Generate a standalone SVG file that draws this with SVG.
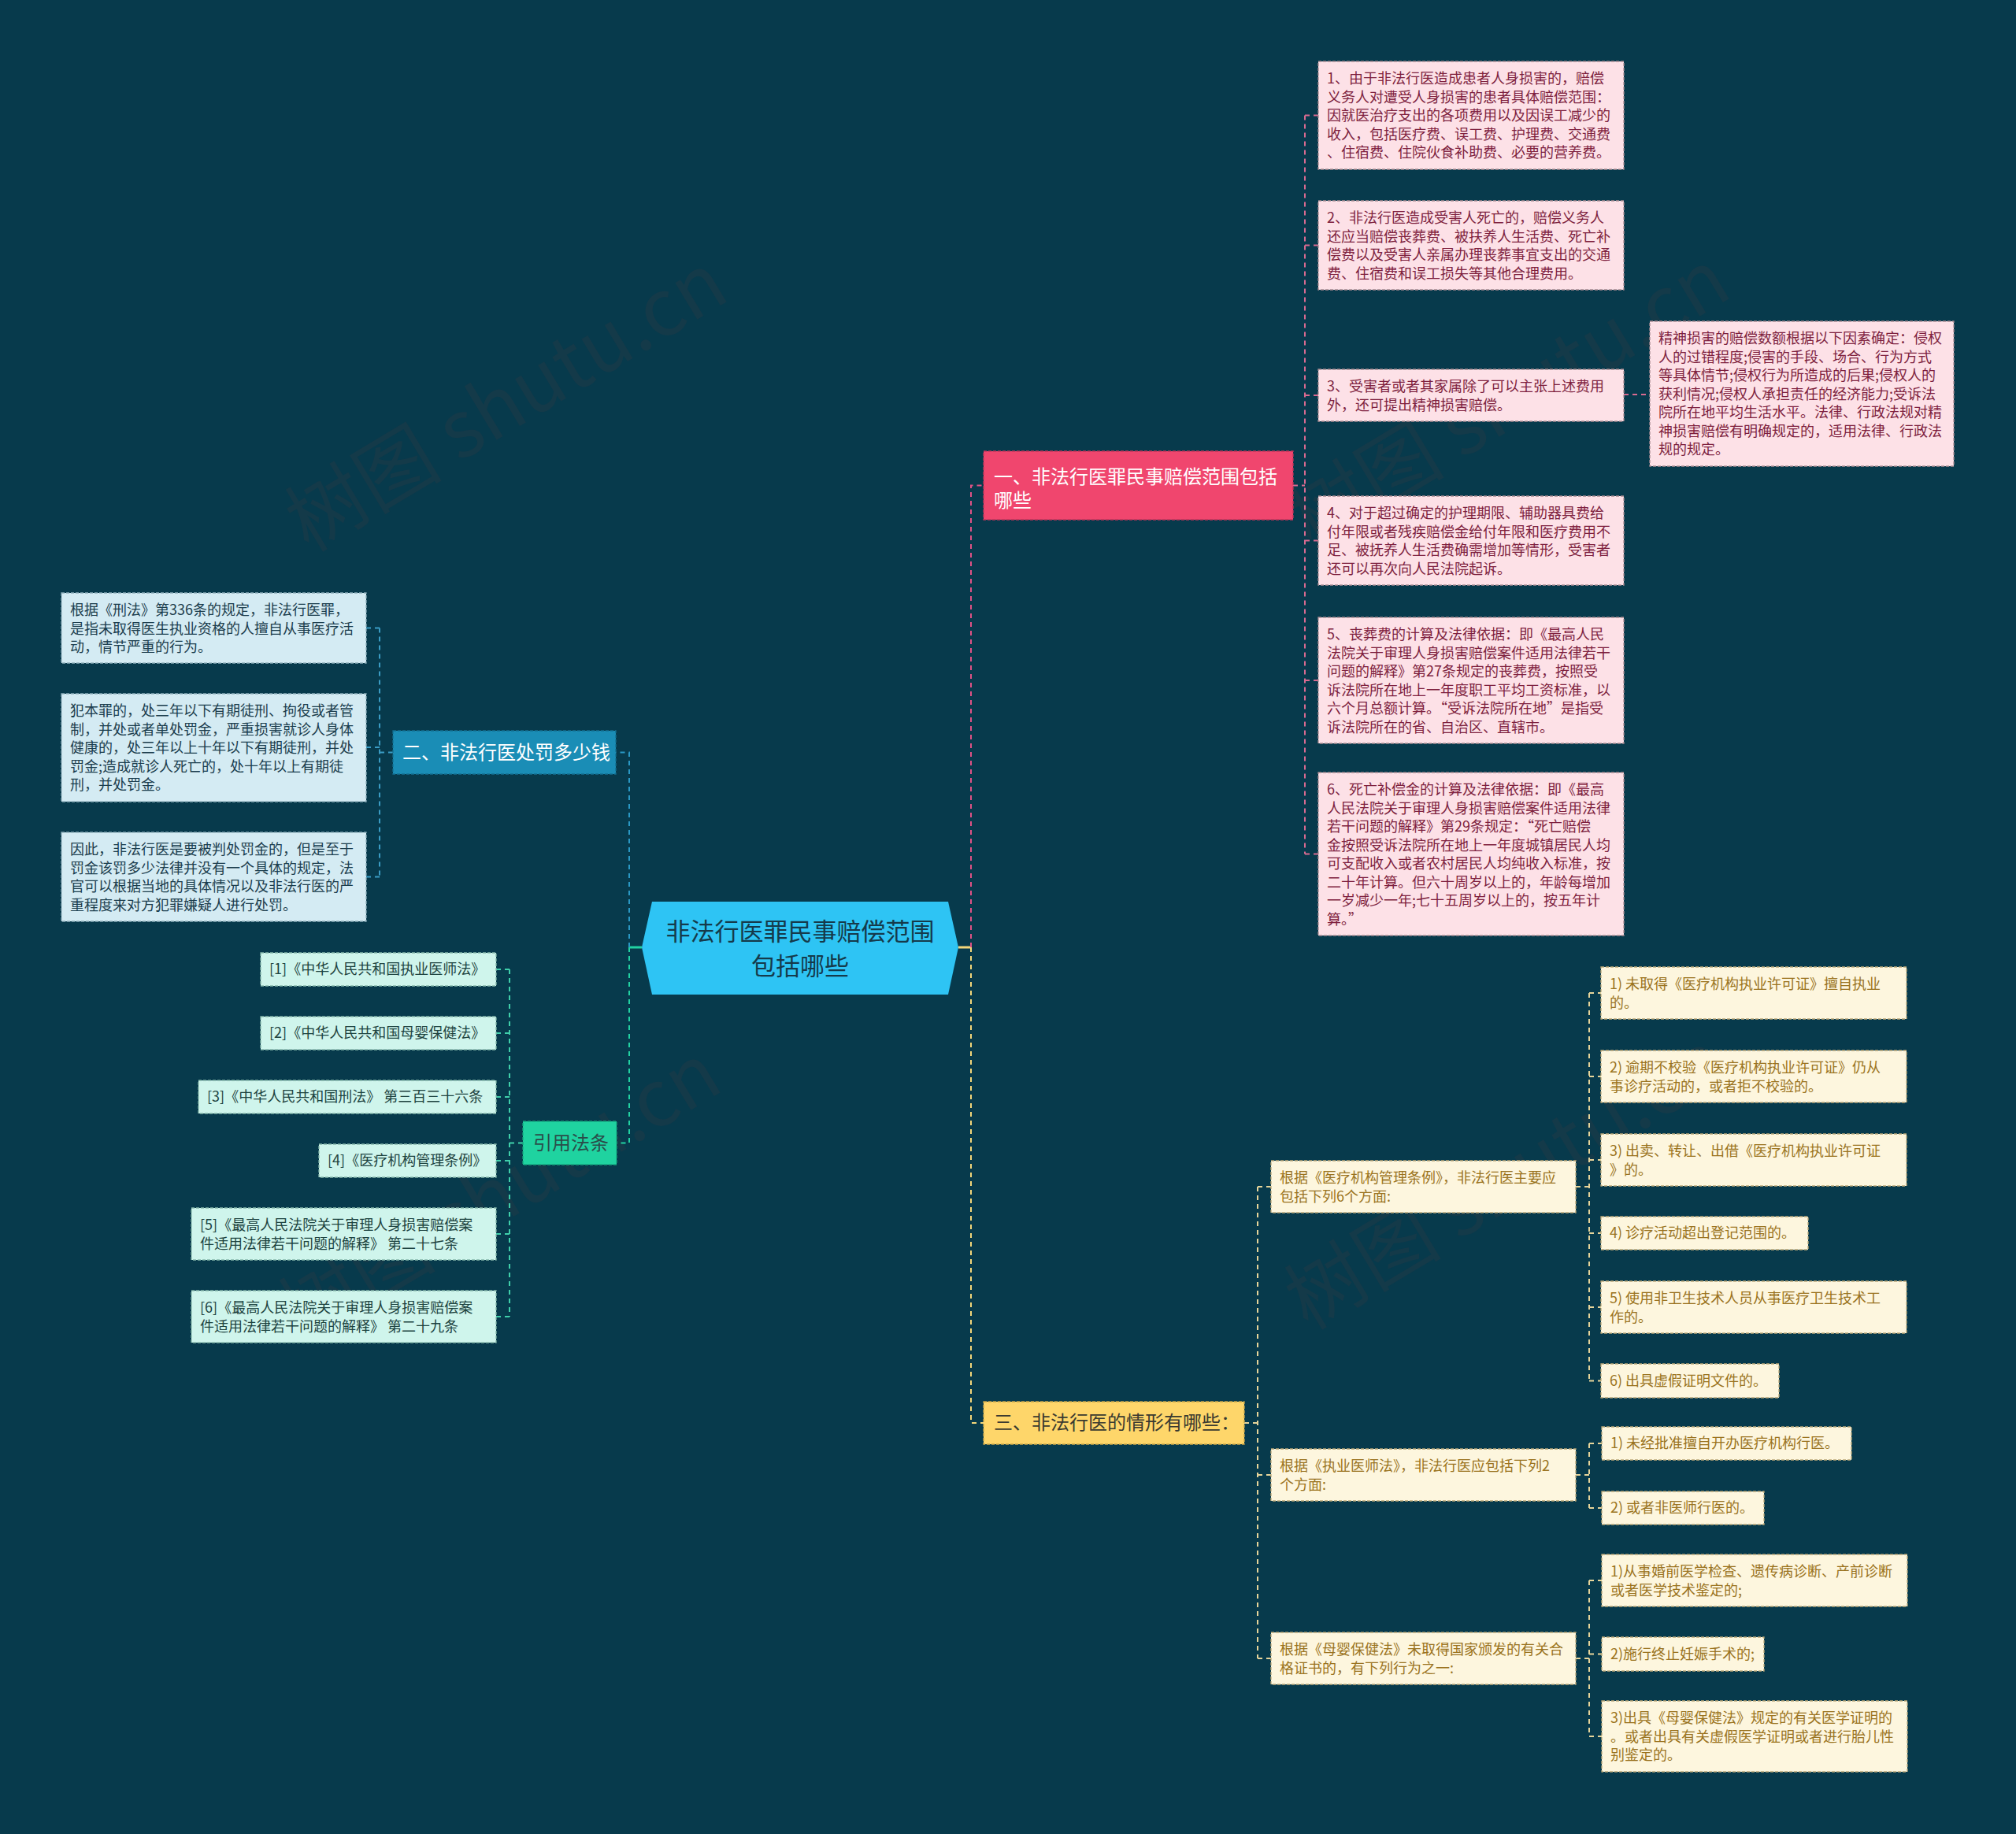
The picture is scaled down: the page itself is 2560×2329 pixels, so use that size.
<svg xmlns="http://www.w3.org/2000/svg" width="2560" height="2329" viewBox="0 0 2560 2329">
<style>
text{font-family:'Noto Sans CJK SC','Noto Sans',sans-serif}
.t18{font-size:18px}
.t24{font-size:24px}
.wm{font-size:100px;fill:#6a3a38;opacity:0.13}
.pk rect{fill:#fde1e7;stroke:#a98c93;stroke-width:1.3;stroke-dasharray:4 2}
.pk text{fill:#7e1f3e}
.bl rect{fill:#d4ebf3;stroke:#8fb0bc;stroke-width:1.3;stroke-dasharray:4 2}
.bl text{fill:#1b3d4d}
.mt rect{fill:#cff5ec;stroke:#86b8aa;stroke-width:1.3;stroke-dasharray:4 2}
.mt text{fill:#1d4340}
.cr rect{fill:#fdf6de;stroke:#bba878;stroke-width:1.3;stroke-dasharray:4 2}
.cr text{fill:#9a7320}
.lk{fill:none;stroke-width:2;stroke-dasharray:6 5}
.lp{stroke:#e05286}
.lb{stroke:#2a98c4}
.lg{stroke:#22d2a2}
.ly{stroke:#f4d77a}
.lpc{stroke:#d86a90}
.lyc{stroke:#e6d49a}
.lgc{stroke:#3fcfaa}
.lbc{stroke:#3a9cc4}
</style>
<rect width="2560" height="2329" fill="#073a4c"/>

<g id="watermarks">
<text class="wm" x="645" y="545" text-anchor="middle" transform="rotate(-31 645 514)">树图 shutu.cn</text>
<text class="wm" x="1918" y="541" text-anchor="middle" transform="rotate(-31 1918 510)">树图 shutu.cn</text>
<text class="wm" x="637" y="1549" text-anchor="middle" transform="rotate(-31 637 1518)">树图 shutu.cn</text>
<text class="wm" x="1914" y="1533" text-anchor="middle" transform="rotate(-31 1914 1502)">树图 shutu.cn</text>
</g>

<g id="connectors">
<path d="M799 1203H815" stroke="#22d2a2" stroke-width="3" fill="none"/>
<path d="M1217 1203H1233" stroke="#f4d77a" stroke-width="3" fill="none"/>
<path class="lk lp" d="M1233 1203V616.5H1249"/>
<path class="lk lpc" d="M1642 616.5H1657M1657 146.5V1084.5M1657 146.5H1674M1657 311.5H1674M1657 502H1674M1657 686.5H1674M1657 864H1674M1657 1084.5H1674M2062 501H2095"/>
<path class="lk ly" d="M1233 1203V1807H1249"/>
<path class="lk lyc" d="M1580 1807H1597M1597 1507V2106M1597 1507H1614M1597 1873H1614M1597 2106H1614"/>
<path class="lk lyc" d="M2001 1507H2018M2018 1261V1753.5M2018 1261H2033M2018 1367H2033M2018 1473H2033M2018 1566H2033M2018 1660H2033M2018 1753.5H2033"/>
<path class="lk lyc" d="M2001 1873H2018M2018 1833V1915M2018 1833H2034M2018 1915H2034"/>
<path class="lk lyc" d="M2001 2106H2018M2018 2007V2205M2018 2007H2034M2018 2100.5H2034M2018 2205H2034"/>
<path class="lk lb" d="M799 1203V955.5H782"/>
<path class="lk lbc" d="M499 955.5H482M482 797.5V1113.5M482 797.5H465M482 949H465M482 1113.5H465"/>
<path class="lk lg" d="M799 1203V1451.5H783"/>
<path class="lk lgc" d="M664 1451.5H647M647 1231V1672M647 1231H630M647 1312H630M647 1393H630M647 1474H630M647 1567H630M647 1672H630"/>
</g>

<g id="center">
<polygon points="828,1145 1204,1145 1217,1203 1204,1263 828,1263 815,1203" fill="#2ec4f4"/>
<text x="1016" y="1194" font-size="31" fill="#153a4b" text-anchor="middle">非法行医罪民事赔偿范围</text>
<text x="1016" y="1238" font-size="31" fill="#153a4b" text-anchor="middle">包括哪些</text>
</g>

<g id="b1">
<rect x="1249" y="573" width="393" height="87" fill="#f0466e" stroke="#c23459" stroke-width="1.3" stroke-dasharray="4 2"/>
<text class="t24" x="1262" y="614" fill="#ffffff">一、非法行医罪民事赔偿范围包括</text>
<text class="t24" x="1262" y="644" fill="#ffffff">哪些</text>
</g>

<g id="b1c1" class="pk">
<rect x="1674" y="78" width="388" height="137"/>
<text class="t18" x="1685" y="106"><tspan x="1685">1、由于非法行医造成患者人身损害的，赔偿</tspan><tspan x="1685" dy="23.5">义务人对遭受人身损害的患者具体赔偿范围：</tspan><tspan x="1685" dy="23.5">因就医治疗支出的各项费用以及因误工减少的</tspan><tspan x="1685" dy="23.5">收入，包括医疗费、误工费、护理费、交通费</tspan><tspan x="1685" dy="23.5">、住宿费、住院伙食补助费、必要的营养费。</tspan></text>
</g>
<g id="b1c2" class="pk">
<rect x="1674" y="255" width="388" height="113"/>
<text class="t18" x="1685" y="283"><tspan x="1685">2、非法行医造成受害人死亡的，赔偿义务人</tspan><tspan x="1685" dy="23.5">还应当赔偿丧葬费、被扶养人生活费、死亡补</tspan><tspan x="1685" dy="23.5">偿费以及受害人亲属办理丧葬事宜支出的交通</tspan><tspan x="1685" dy="23.5">费、住宿费和误工损失等其他合理费用。</tspan></text>
</g>
<g id="b1c3" class="pk">
<rect x="1674" y="469" width="388" height="66"/>
<text class="t18" x="1685" y="497"><tspan x="1685">3、受害者或者其家属除了可以主张上述费用</tspan><tspan x="1685" dy="23.5">外，还可提出精神损害赔偿。</tspan></text>
</g>
<g id="b1c3a" class="pk">
<rect x="2095" y="408" width="386" height="184"/>
<text class="t18" x="2106" y="436"><tspan x="2106">精神损害的赔偿数额根据以下因素确定：侵权</tspan><tspan x="2106" dy="23.5">人的过错程度;侵害的手段、场合、行为方式</tspan><tspan x="2106" dy="23.5">等具体情节;侵权行为所造成的后果;侵权人的</tspan><tspan x="2106" dy="23.5">获利情况;侵权人承担责任的经济能力;受诉法</tspan><tspan x="2106" dy="23.5">院所在地平均生活水平。法律、行政法规对精</tspan><tspan x="2106" dy="23.5">神损害赔偿有明确规定的，适用法律、行政法</tspan><tspan x="2106" dy="23.5">规的规定。</tspan></text>
</g>
<g id="b1c4" class="pk">
<rect x="1674" y="630" width="388" height="113"/>
<text class="t18" x="1685" y="658"><tspan x="1685">4、对于超过确定的护理期限、辅助器具费给</tspan><tspan x="1685" dy="23.5">付年限或者残疾赔偿金给付年限和医疗费用不</tspan><tspan x="1685" dy="23.5">足、被抚养人生活费确需增加等情形，受害者</tspan><tspan x="1685" dy="23.5">还可以再次向人民法院起诉。</tspan></text>
</g>
<g id="b1c5" class="pk">
<rect x="1674" y="784" width="388" height="160"/>
<text class="t18" x="1685" y="812"><tspan x="1685">5、丧葬费的计算及法律依据：即《最高人民</tspan><tspan x="1685" dy="23.5">法院关于审理人身损害赔偿案件适用法律若干</tspan><tspan x="1685" dy="23.5">问题的解释》第27条规定的丧葬费，按照受</tspan><tspan x="1685" dy="23.5">诉法院所在地上一年度职工平均工资标准，以</tspan><tspan x="1685" dy="23.5">六个月总额计算。“受诉法院所在地”是指受</tspan><tspan x="1685" dy="23.5">诉法院所在的省、自治区、直辖市。</tspan></text>
</g>
<g id="b1c6" class="pk">
<rect x="1674" y="981" width="388" height="207"/>
<text class="t18" x="1685" y="1009"><tspan x="1685">6、死亡补偿金的计算及法律依据：即《最高</tspan><tspan x="1685" dy="23.5">人民法院关于审理人身损害赔偿案件适用法律</tspan><tspan x="1685" dy="23.5">若干问题的解释》第29条规定：“死亡赔偿</tspan><tspan x="1685" dy="23.5">金按照受诉法院所在地上一年度城镇居民人均</tspan><tspan x="1685" dy="23.5">可支配收入或者农村居民人均纯收入标准，按</tspan><tspan x="1685" dy="23.5">二十年计算。但六十周岁以上的，年龄每增加</tspan><tspan x="1685" dy="23.5">一岁减少一年;七十五周岁以上的，按五年计</tspan><tspan x="1685" dy="23.5">算。”</tspan></text>
</g>

<g id="b2">
<rect x="499" y="928" width="283" height="55" fill="#1a8db6" stroke="#136f90" stroke-width="1.3" stroke-dasharray="4 2"/>
<text class="t24" x="511" y="964" fill="#ffffff">二、非法行医处罚多少钱</text>
</g>
<g id="b2c1" class="bl">
<rect x="78" y="753" width="387" height="89"/>
<text class="t18" x="89" y="781"><tspan x="89">根据《刑法》第336条的规定，非法行医罪，</tspan><tspan x="89" dy="23.5">是指未取得医生执业资格的人擅自从事医疗活</tspan><tspan x="89" dy="23.5">动，情节严重的行为。</tspan></text>
</g>
<g id="b2c2" class="bl">
<rect x="78" y="881" width="387" height="137"/>
<text class="t18" x="89" y="909"><tspan x="89">犯本罪的，处三年以下有期徒刑、拘役或者管</tspan><tspan x="89" dy="23.5">制，并处或者单处罚金，严重损害就诊人身体</tspan><tspan x="89" dy="23.5">健康的，处三年以上十年以下有期徒刑，并处</tspan><tspan x="89" dy="23.5">罚金;造成就诊人死亡的，处十年以上有期徒</tspan><tspan x="89" dy="23.5">刑，并处罚金。</tspan></text>
</g>
<g id="b2c3" class="bl">
<rect x="78" y="1057" width="387" height="113"/>
<text class="t18" x="89" y="1085"><tspan x="89">因此，非法行医是要被判处罚金的，但是至于</tspan><tspan x="89" dy="23.5">罚金该罚多少法律并没有一个具体的规定，法</tspan><tspan x="89" dy="23.5">官可以根据当地的具体情况以及非法行医的严</tspan><tspan x="89" dy="23.5">重程度来对方犯罪嫌疑人进行处罚。</tspan></text>
</g>

<g id="b4">
<rect x="664" y="1424" width="119" height="55" fill="#1fd3a0" stroke="#15a57c" stroke-width="1.3" stroke-dasharray="4 2"/>
<text class="t24" x="677" y="1460" fill="#2a4d4a">引用法条</text>
</g>
<g id="b4c1" class="mt">
<rect x="331" y="1210" width="299" height="42"/>
<text class="t18" x="342" y="1237">[1]《中华人民共和国执业医师法》</text>
</g>
<g id="b4c2" class="mt">
<rect x="331" y="1291" width="299" height="42"/>
<text class="t18" x="342" y="1318">[2]《中华人民共和国母婴保健法》</text>
</g>
<g id="b4c3" class="mt">
<rect x="252" y="1372" width="378" height="42"/>
<text class="t18" x="263" y="1399">[3]《中华人民共和国刑法》 第三百三十六条</text>
</g>
<g id="b4c4" class="mt">
<rect x="405" y="1453" width="225" height="42"/>
<text class="t18" x="416" y="1480">[4]《医疗机构管理条例》</text>
</g>
<g id="b4c5" class="mt">
<rect x="243" y="1534" width="387" height="66"/>
<text class="t18" x="254" y="1562"><tspan x="254">[5]《最高人民法院关于审理人身损害赔偿案</tspan><tspan x="254" dy="23.5">件适用法律若干问题的解释》 第二十七条</tspan></text>
</g>
<g id="b4c6" class="mt">
<rect x="243" y="1639" width="387" height="66"/>
<text class="t18" x="254" y="1667"><tspan x="254">[6]《最高人民法院关于审理人身损害赔偿案</tspan><tspan x="254" dy="23.5">件适用法律若干问题的解释》 第二十九条</tspan></text>
</g>

<g id="b3">
<rect x="1249" y="1780" width="331" height="54" fill="#fed66a" stroke="#c9a648" stroke-width="1.3" stroke-dasharray="4 2"/>
<text class="t24" x="1262" y="1815" fill="#3a3a30">三、非法行医的情形有哪些：</text>
</g>
<g id="b3c1" class="cr">
<rect x="1614" y="1474" width="387" height="66"/>
<text class="t18" x="1625" y="1502"><tspan x="1625">根据《医疗机构管理条例》，非法行医主要应</tspan><tspan x="1625" dy="23.5">包括下列6个方面:</tspan></text>
</g>
<g id="b3c1i1" class="cr">
<rect x="2033" y="1228" width="388" height="66"/>
<text class="t18" x="2044" y="1256"><tspan x="2044">1) 未取得《医疗机构执业许可证》擅自执业</tspan><tspan x="2044" dy="23.5">的。</tspan></text>
</g>
<g id="b3c1i2" class="cr">
<rect x="2033" y="1334" width="388" height="66"/>
<text class="t18" x="2044" y="1362"><tspan x="2044">2) 逾期不校验《医疗机构执业许可证》仍从</tspan><tspan x="2044" dy="23.5">事诊疗活动的，或者拒不校验的。</tspan></text>
</g>
<g id="b3c1i3" class="cr">
<rect x="2033" y="1440" width="388" height="66"/>
<text class="t18" x="2044" y="1468"><tspan x="2044">3) 出卖、转让、出借《医疗机构执业许可证</tspan><tspan x="2044" dy="23.5">》的。</tspan></text>
</g>
<g id="b3c1i4" class="cr">
<rect x="2033" y="1545" width="263" height="42"/>
<text class="t18" x="2044" y="1572">4) 诊疗活动超出登记范围的。</text>
</g>
<g id="b3c1i5" class="cr">
<rect x="2033" y="1627" width="388" height="66"/>
<text class="t18" x="2044" y="1655"><tspan x="2044">5) 使用非卫生技术人员从事医疗卫生技术工</tspan><tspan x="2044" dy="23.5">作的。</tspan></text>
</g>
<g id="b3c1i6" class="cr">
<rect x="2033" y="1732" width="226" height="43"/>
<text class="t18" x="2044" y="1760">6) 出具虚假证明文件的。</text>
</g>
<g id="b3c2" class="cr">
<rect x="1614" y="1840" width="387" height="66"/>
<text class="t18" x="1625" y="1868"><tspan x="1625">根据《执业医师法》，非法行医应包括下列2</tspan><tspan x="1625" dy="23.5">个方面:</tspan></text>
</g>
<g id="b3c2j1" class="cr">
<rect x="2034" y="1812" width="317" height="42"/>
<text class="t18" x="2045" y="1839">1) 未经批准擅自开办医疗机构行医。</text>
</g>
<g id="b3c2j2" class="cr">
<rect x="2034" y="1894" width="206" height="42"/>
<text class="t18" x="2045" y="1921">2) 或者非医师行医的。</text>
</g>
<g id="b3c3" class="cr">
<rect x="1614" y="2073" width="387" height="66"/>
<text class="t18" x="1625" y="2101"><tspan x="1625">根据《母婴保健法》未取得国家颁发的有关合</tspan><tspan x="1625" dy="23.5">格证书的，有下列行为之一:</tspan></text>
</g>
<g id="b3c3k1" class="cr">
<rect x="2034" y="1974" width="388" height="66"/>
<text class="t18" x="2045" y="2002"><tspan x="2045">1)从事婚前医学检查、遗传病诊断、产前诊断</tspan><tspan x="2045" dy="23.5">或者医学技术鉴定的;</tspan></text>
</g>
<g id="b3c3k2" class="cr">
<rect x="2034" y="2079" width="206" height="43"/>
<text class="t18" x="2045" y="2107">2)施行终止妊娠手术的;</text>
</g>
<g id="b3c3k3" class="cr">
<rect x="2034" y="2160" width="388" height="90"/>
<text class="t18" x="2045" y="2188"><tspan x="2045">3)出具《母婴保健法》规定的有关医学证明的</tspan><tspan x="2045" dy="23.5">。或者出具有关虚假医学证明或者进行胎儿性</tspan><tspan x="2045" dy="23.5">别鉴定的。</tspan></text>
</g>
</svg>
